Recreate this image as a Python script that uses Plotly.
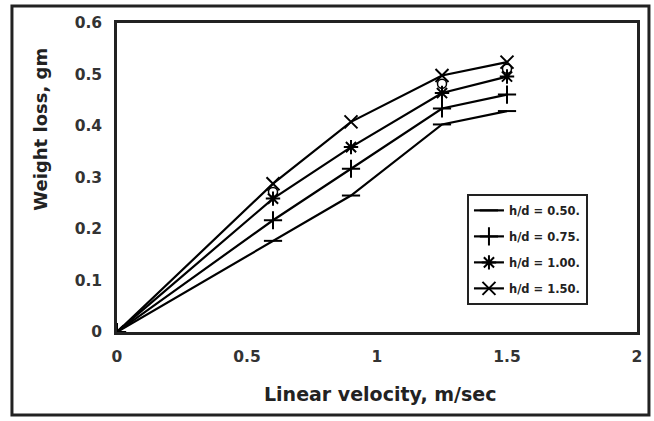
import plotly.graph_objects as go

velocity = [0, 0.6, 0.9, 1.25, 1.5]
hd_050 = [0, 0.177, 0.265, 0.403, 0.429]
hd_075 = [0, 0.217, 0.317, 0.434, 0.461]
hd_100 = [0, 0.259, 0.359, 0.464, 0.496]
hd_150 = [0, 0.288, 0.408, 0.498, 0.524]
extra_x = [0.6, 1.25, 1.5]
extra_y = [0.272, 0.482, 0.511]

series = [
    ("h/d = 0.50.", hd_050, "line-ew", 13),
    ("h/d = 0.75.", hd_075, "cross-thin", 13),
    ("h/d = 1.00.", hd_100, "asterisk", 12),
    ("h/d = 1.50.", hd_150, "x-thin", 13),
]

fig = go.Figure()
for i, (name, ys, sym, sz) in enumerate(series):
    fig.add_trace(go.Scatter(
        x=velocity, y=ys, name=name, mode="lines+markers",
        legendgroup=f"g{i}",
        line=dict(color="black", width=2.2),
        marker=dict(symbol=sym, size=sz, color="black",
                    line=dict(color="black", width=2)),
    ))
fig.add_trace(go.Scatter(
    x=extra_x, y=extra_y, mode="markers", showlegend=False,
    marker=dict(symbol="circle-open", size=9, color="black",
                line=dict(color="black", width=1.5)),
))

font = "DejaVu Sans, Verdana, sans-serif"
fig.update_layout(
    width=654, height=421,
    margin=dict(l=117, r=17, t=23, b=89),
    paper_bgcolor="white", plot_bgcolor="white",
    font=dict(family=font, color="#222", size=13),
    xaxis=dict(range=[0, 2], tickvals=[0, 0.5, 1, 1.5, 2],
               ticktext=["0", "0.5", "1", "1.5", "2"],
               showgrid=False, zeroline=False, showline=True, mirror=True,
               linecolor="#222", linewidth=2.5, ticks="", ticklabelstandoff=9,
               tickfont=dict(family=font, size=15.5, color="#333", weight="bold")),
    yaxis=dict(range=[0, 0.6], tickvals=[0, 0.1, 0.2, 0.3, 0.4, 0.5, 0.6],
               ticktext=["0", "0.1", "0.2", "0.3", "0.4", "0.5", "0.6"],
               showgrid=False, zeroline=False, showline=True, mirror=True,
               linecolor="#222", linewidth=2.5, ticks="", ticklabelstandoff=9,
               tickfont=dict(family=font, size=15.5, color="#333", weight="bold")),
    legend=dict(x=0.673, y=0.447, xanchor="left", yanchor="top",
                bordercolor="#222", borderwidth=2, bgcolor="white",
                font=dict(family=font, size=11.5, color="#222", weight="bold"),
                itemwidth=30, tracegroupgap=7, traceorder="grouped"),
    annotations=[
        dict(text="<b>Weight loss, gm</b>", textangle=-90, xref="paper", yref="paper",
             x=-0.146, y=0.655, xanchor="center", yanchor="middle", showarrow=False,
             font=dict(family=font, size=18, color="#222")),
        dict(text="<b>Linear velocity, m/sec</b>", xref="paper", yref="paper",
             x=0.506, y=-0.2, xanchor="center", yanchor="middle", showarrow=False,
             font=dict(family=font, size=19, color="#222")),
    ],
    shapes=[dict(type="rect", xref="paper", yref="paper",
                 x0=-0.202, x1=1.023, y0=-0.2686, y1=1.055,
                 line=dict(color="#222", width=3), layer="below")],
)
fig.write_html("out.html")
